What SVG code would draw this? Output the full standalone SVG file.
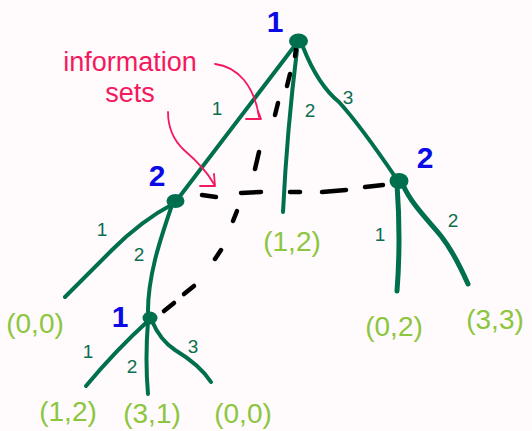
<svg xmlns="http://www.w3.org/2000/svg" width="532" height="431" viewBox="0 0 532 431">
  <style>
    .edge { fill: none; stroke: #006f4e; stroke-width: 4; stroke-linecap: round; stroke-linejoin: round; }
    .thick { stroke-width: 5; }
    .dash { fill: none; stroke: #000; stroke-width: 4.5; stroke-linecap: round; }
    .node { fill: #006f4e; }
    .player { font-family: "Liberation Sans", Arial, sans-serif; font-weight: bold; font-size: 30px; fill: #0a0ae6; text-anchor: middle; }
    .elabel { font-family: "Liberation Sans", Arial, sans-serif; font-size: 19px; fill: #0b6e4f; text-anchor: middle; }
    .payoff { font-family: "Liberation Sans", Arial, sans-serif; font-size: 28px; fill: #8cc63f; text-anchor: middle; }
    .note { font-family: "Liberation Sans", Arial, sans-serif; font-size: 27px; fill: #f2195f; text-anchor: middle; }
    .arrow { fill: none; stroke: #f2195f; stroke-width: 1.8; stroke-linecap: round; stroke-linejoin: round; }
  </style>
  <rect width="532" height="431" fill="#fffafb"/>

  <g id="connectors">
    <!-- root edges -->
    <path class="edge" d="M293,48 L177,200"/>
    <path class="edge" d="M297,50 Q 287,130 283,212"/>
    <path class="edge" d="M303,47 Q 318,85 339,102 Q 360,125 396,178"/>
    <!-- left node edges -->
    <path class="edge" d="M173,204 C 150,216 130,232 112,250 L 65,297"/>
    <path class="edge" d="M172,205 C 160,240 147,278 148,316"/>
    <!-- right node edges -->
    <path class="edge thick" d="M397,184 Q 401,240 397,291"/>
    <path class="edge thick" d="M403,185 C 412,205 428,220 441,236 C 452,250 460,266 468,284"/>
    <!-- bottom node edges -->
    <path class="edge" d="M148,321 Q 116,350 86,386"/>
    <path class="edge" d="M148,321 Q 145,360 148,394"/>
    <path class="edge" d="M152,321 Q 160,340 175,350 Q 200,365 211,382"/>
    <!-- information set 1 (root - bottom node) -->
    <path class="dash" d="M296,49 L295,56"/>
    <path class="dash" d="M290,74 L287,86"/>
    <path class="dash" d="M278,103 L275,115"/>
    <path class="dash" d="M259,152 L255,169"/>
    <path class="dash" d="M237,211 L233,221"/>
    <path class="dash" d="M221,250 L215,259"/>
    <path class="dash" d="M194,286 L184,294"/>
    <path class="dash" d="M174,303 L164,311"/>
    <!-- information set 2 (left - right node) -->
    <path class="dash" d="M202,195 L216,197"/>
    <path class="dash" d="M241,193 L261,192"/>
    <path class="dash" d="M290,192 L300,192"/>
    <path class="dash" d="M322,192 L346,190"/>
    <path class="dash" d="M365,187 L383,185"/>
    <!-- annotation arrows -->
    <path class="arrow" d="M215,64 Q 232,66 244,80 Q 256,95 259,117"/>
    <path class="arrow" d="M246,119 L261,119 L258,111"/>
    <path class="arrow" d="M168,112 Q 168,135 184,150 Q 205,168 214,184"/>
    <path class="arrow" d="M200,186 L215,186 L214,174"/>
  </g>

  <!-- edge labels -->
  <g id="edge-labels">
    <text class="elabel" x="217" y="115">1</text>
    <text class="elabel" x="310" y="117">2</text>
    <text class="elabel" x="348" y="104">3</text>
    <text class="elabel" x="102" y="236">1</text>
    <text class="elabel" x="139" y="261">2</text>
    <text class="elabel" x="380" y="241">1</text>
    <text class="elabel" x="453" y="227">2</text>
    <text class="elabel" x="88" y="358">1</text>
    <text class="elabel" x="132" y="373">2</text>
    <text class="elabel" x="193" y="353">3</text>
  </g>

  <g id="root">
    <ellipse class="node" cx="298.5" cy="41" rx="9.5" ry="7.5"/>
    <text class="player" x="275" y="32">1</text>
  </g>
  <g id="left-node">
    <ellipse class="node" cx="175.5" cy="201" rx="9" ry="7"/>
    <text class="player" x="157" y="186">2</text>
  </g>
  <g id="right-node">
    <ellipse class="node" cx="399" cy="181" rx="9.5" ry="8"/>
    <text class="player" x="425" y="168">2</text>
  </g>
  <g id="bottom-node">
    <ellipse class="node" cx="150" cy="318" rx="7.5" ry="6.5"/>
    <text class="player" x="120" y="327">1</text>
  </g>

  <g id="payoff-00-left"><text class="payoff" x="35" y="333">(0,0)</text></g>
  <g id="payoff-12-mid"><text class="payoff" x="292" y="251">(1,2)</text></g>
  <g id="payoff-02"><text class="payoff" x="394" y="336">(0,2)</text></g>
  <g id="payoff-33"><text class="payoff" x="495" y="329">(3,3)</text></g>
  <g id="payoff-12-bottom"><text class="payoff" x="68" y="421">(1,2)</text></g>
  <g id="payoff-31"><text class="payoff" x="152" y="423">(3,1)</text></g>
  <g id="payoff-00-bottom"><text class="payoff" x="243" y="423">(0,0)</text></g>

  <g id="annotation">
    <text class="note" x="130" y="71">information</text>
    <text class="note" x="130" y="102">sets</text>
  </g>
</svg>
